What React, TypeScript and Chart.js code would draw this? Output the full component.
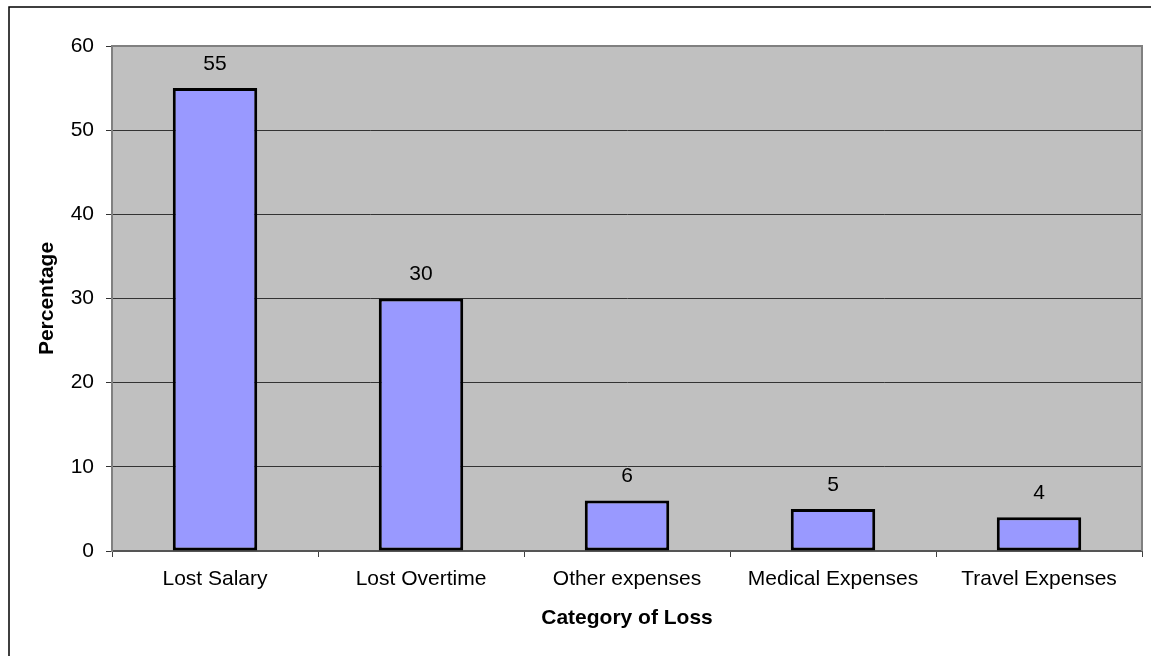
import React, { useEffect, useRef } from "react";
import { Chart, registerables } from "chart.js";

Chart.register(...registerables);

const categories = ["Lost Salary", "Lost Overtime", "Other expenses", "Medical Expenses", "Travel Expenses"];
const percentages = [55, 30, 6, 5, 4];
const yTicks = [0, 10, 20, 30, 40, 50, 60];

const FONT = "Arial, 'Liberation Sans', sans-serif";
const FS = 21;

const framePlugin = {
  id: "frame",
  beforeDraw(chart: any) {
    const { ctx, chartArea } = chart;
    ctx.save();
    ctx.fillStyle = "#ffffff";
    ctx.fillRect(0, 0, chart.width, chart.height);
    ctx.strokeStyle = "#000000";
    ctx.lineWidth = 1.5;
    ctx.strokeRect(9, 7, chart.width + 20, chart.height + 20);
    ctx.fillStyle = "#C0C0C0";
    ctx.fillRect(chartArea.left, chartArea.top, chartArea.right - chartArea.left, chartArea.bottom - chartArea.top);
    ctx.restore();
  },
  afterDatasetsDraw(chart: any) {
    const { ctx, chartArea } = chart;
    ctx.save();
    ctx.strokeStyle = "#808080";
    ctx.lineWidth = 2;
    ctx.beginPath();
    ctx.moveTo(chartArea.left, chartArea.top);
    ctx.lineTo(chartArea.right, chartArea.top);
    ctx.lineTo(chartArea.right, chartArea.bottom);
    ctx.stroke();
    ctx.fillStyle = "#000000";
    ctx.font = `${FS}px ${FONT}`;
    ctx.textAlign = "center";
    ctx.textBaseline = "middle";
    const meta = chart.getDatasetMeta(0);
    meta.data.forEach((bar: any, i: number) => {
      ctx.fillText(String(percentages[i]), bar.x, bar.y - 24);
    });
    ctx.restore();
  },
};

export default function App() {
  const ref = useRef<HTMLCanvasElement>(null);
  useEffect(() => {
    if (!ref.current) return;
    const chart = new Chart(ref.current, {
      type: "bar",
      data: {
        labels: categories,
        datasets: [
          {
            data: percentages,
            backgroundColor: "#9999FF",
            borderColor: "#000000",
            borderWidth: 3,
            borderSkipped: false,
            categoryPercentage: 1,
            barPercentage: 0.41,
          },
        ],
      },
      options: {
        responsive: false,
        animation: false,
        layout: { padding: { top: 46, right: 9, left: 0, bottom: 0 } },
        plugins: { legend: { display: false }, tooltip: { enabled: false } },
        scales: {
          x: {
            afterFit: (s: any) => { s.height = 105; },
            offset: true,
            grid: {
              offset: true,
              drawOnChartArea: false,
              drawTicks: true,
              tickLength: 6,
              color: "#404040",
            },
            border: { color: "#555555", width: 2 },
            ticks: { color: "#000", font: { family: FONT, size: FS }, padding: 10 },
            title: {
              display: true,
              text: "Category of Loss",
              color: "#000",
              font: { family: FONT, size: FS, weight: "bold" },
              padding: { top: 0, bottom: 25 },
            },
          },
          y: {
            min: 0,
            max: 60,
            afterFit: (s: any) => { s.width = 112; },
            afterBuildTicks: (s: any) => { s.ticks = yTicks.map((v) => ({ value: v })); },
            grid: { color: "#333333", lineWidth: 1, tickLength: 6, drawTicks: true },
            border: { color: "#808080", width: 2 },
            ticks: { color: "#000", font: { family: FONT, size: FS }, padding: 12 },
            title: {
              display: true,
              text: "Percentage",
              color: "#000",
              font: { family: FONT, size: FS, weight: "bold" },
              padding: { top: 35, bottom: 0 },
            },
          },
        },
      },
      plugins: [framePlugin],
    });
    return () => chart.destroy();
  }, []);
  return (
    <div style={{ position: "fixed", left: 0, top: 0, width: 1151, height: 656 }}>
      <canvas ref={ref} width={1151} height={656} />
    </div>
  );
}
